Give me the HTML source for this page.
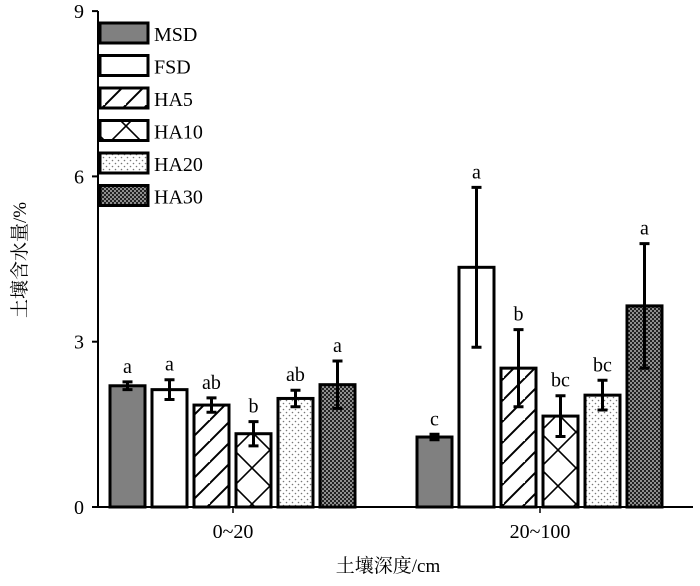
<!DOCTYPE html>
<html><head><meta charset="utf-8"><style>
body{margin:0;background:#fff}
svg text{font-family:"Liberation Serif","Noto Serif CJK SC",serif;fill:#000}
</style></head><body>
<svg width="700" height="581" viewBox="0 0 700 581">
<defs>
<pattern id="p-ha5" patternUnits="userSpaceOnUse" width="21" height="21"><path d="M-2,23 L23,-2 M-12,12 L12,-12 M10,33 L33,10" stroke="#000" stroke-width="2"/></pattern>
<pattern id="p-ha10" patternUnits="userSpaceOnUse" width="36" height="36" x="0"><path d="M0,0 L36,36 M36,0 L0,36 M-18,18 L18,54 M18,-18 L54,18 M-18,18 L18,-18 M18,54 L54,18" stroke="#000" stroke-width="1.6"/></pattern>
<pattern id="p-ha20" patternUnits="userSpaceOnUse" width="6" height="6"><rect width="6" height="6" fill="#fff"/><circle cx="1.5" cy="1.5" r="0.8" fill="#777"/><circle cx="4.5" cy="4.5" r="0.8" fill="#777"/></pattern>
<pattern id="p-ha30" patternUnits="userSpaceOnUse" width="4" height="4"><rect width="4" height="4" fill="#222"/><circle cx="1" cy="1" r="0.9" fill="#ddd"/><circle cx="3" cy="3" r="0.9" fill="#ddd"/></pattern>
</defs>
<g id="axes"></g>
<g id="bars"></g>
<g id="legend"></g>
<text x="26" y="260" font-size="19" text-anchor="middle" transform="rotate(-90 26 260)">土壤含水量/%</text>
<text x="388" y="572" font-size="19" text-anchor="middle">土壤深度/cm</text>
</svg>
<script>
const categories=["0~20","20~100"];
const seriesNames=["MSD","FSD","HA5","HA10","HA20","HA30"];
const valuesG1=[2.2,2.13,1.85,1.33,1.97,2.22];
const errorsG1=[0.07,0.18,0.13,0.22,0.15,0.43];
const lettersG1=["a","a","ab","b","ab","a"];
const valuesG2=[1.27,4.35,2.52,1.65,2.03,3.65];
const errorsG2=[0.05,1.45,0.7,0.37,0.27,1.13];
const lettersG2=["c","a","b","bc","bc","a"];
const yTicks=[0,3,6,9];
const fills=["#808080","#fff","url(#p-ha5)","url(#p-ha10)","url(#p-ha20)","url(#p-ha30)"];
const NS="http://www.w3.org/2000/svg";
const y=v=>507-v*55.1;
const groupCenter=i=>233+i*307;
const barX=(g,s)=>groupCenter(g)-123+s*42;
function mk(t,a,p){const e=document.createElementNS(NS,t);for(const k in a)e.setAttribute(k,a[k]);p.appendChild(e);return e;}
const ax=document.getElementById('axes');
let e=mk('line',{x1:98,y1:507,x2:693,y2:507,stroke:'#000','stroke-width':2},ax);


e=mk('line',{x1:98,y1:11,x2:98,y2:508,stroke:'#000','stroke-width':2},ax);


yTicks.forEach(t=>{
 mk('line',{x1:92,y1:y(t),x2:98,y2:y(t),stroke:'#000','stroke-width':2},ax);
 const tx=mk('text',{x:84,y:y(t)+7,'font-size':20,'text-anchor':'end'},ax);tx.textContent=t;
 
 
});
categories.forEach((c,i)=>{
 mk('line',{x1:groupCenter(i),y1:507,x2:groupCenter(i),y2:513,stroke:'#000','stroke-width':1.5},ax);
 const tx=mk('text',{x:groupCenter(i),y:538,'font-size':20,'text-anchor':'middle'},ax);tx.textContent=c;
 
 
});
const bg=document.getElementById('bars');
[[valuesG1,errorsG1,lettersG1],[valuesG2,errorsG2,lettersG2]].forEach((d,g)=>{
 d[0].forEach((v,s)=>{
  const x=barX(g,s);
  const r=mk('rect',{x:x,y:y(v),width:35,height:507-y(v),fill:fills[s],stroke:'#000','stroke-width':3},bg);
  
  
  const cx=x+17.5,hi=y(v+d[1][s]),lo=y(v-d[1][s]);
  mk('path',{d:`M${cx},${hi}V${lo}M${cx-5},${hi}H${cx+5}M${cx-5},${lo}H${cx+5}`,stroke:'#000','stroke-width':3,fill:'none'},bg);
  const t=mk('text',{x:cx,y:hi-9,'font-size':20,'text-anchor':'middle'},bg);t.textContent=d[2][s];
  
  
 });
});
const lg=document.getElementById('legend');
seriesNames.forEach((n,i)=>{
 const yy=23+i*32.5;
 const r=mk('rect',{x:100,y:yy,width:48,height:20,fill:fills[i],stroke:'#000','stroke-width':3},lg);
 
 
 const t=mk('text',{x:154,y:yy+18,'font-size':20},lg);t.textContent=n;
 
 
});
</script>
</body></html>
